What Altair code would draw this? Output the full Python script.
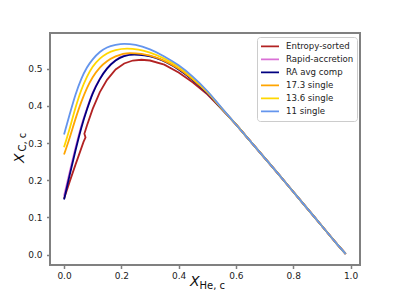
import altair as alt
import pandas as pd

series_names = ["Entropy-sorted", "Rapid-accretion", "RA avg comp", "17.3 single", "13.6 single", "11 single"]
series_colors = ["#b22222", "#da70d6", "#000080", "#ffa500", "#ffd700", "#6495ed"]

tail_x = [0.6, 0.65, 0.7, 0.75, 0.8, 0.85, 0.9, 0.95, 0.983]
tail_y = [0.350, 0.305, 0.260, 0.215, 0.169, 0.123, 0.077, 0.031, 0.002]

es_x = [0, 0.02, 0.04, 0.057, 0.068, 0.075, 0.071, 0.08, 0.1, 0.125, 0.15, 0.18, 0.21, 0.24, 0.27, 0.3, 0.35, 0.4, 0.45, 0.5, 0.55]
es_y = [0.150, 0.197, 0.242, 0.279, 0.303, 0.315, 0.325, 0.347, 0.392, 0.437, 0.470, 0.498, 0.514, 0.522, 0.524, 0.522, 0.511, 0.490, 0.463, 0.431, 0.392]

ra_x = [0, 0.02, 0.04, 0.06, 0.08, 0.1, 0.125, 0.15, 0.18, 0.21, 0.245, 0.28, 0.32, 0.36, 0.4, 0.45, 0.5, 0.55]
ra_y = [0.158, 0.223, 0.287, 0.345, 0.393, 0.435, 0.473, 0.501, 0.523, 0.535, 0.539, 0.537, 0.530, 0.517, 0.499, 0.470, 0.435, 0.393]

rav_x = [0, 0.02, 0.04, 0.06, 0.08, 0.1, 0.125, 0.15, 0.18, 0.21, 0.245, 0.28, 0.32, 0.36, 0.4, 0.45, 0.5, 0.55]
rav_y = [0.148, 0.215, 0.280, 0.340, 0.390, 0.433, 0.472, 0.500, 0.522, 0.534, 0.538, 0.536, 0.529, 0.516, 0.498, 0.469, 0.434, 0.392]

s173_x = [0, 0.02, 0.04, 0.06, 0.08, 0.1, 0.125, 0.15, 0.18, 0.23, 0.27, 0.3, 0.35, 0.4, 0.45, 0.5, 0.55]
s173_y = [0.269, 0.315, 0.365, 0.410, 0.448, 0.477, 0.503, 0.520, 0.533, 0.542, 0.540, 0.535, 0.521, 0.500, 0.471, 0.436, 0.393]

s136_x = [0, 0.02, 0.04, 0.06, 0.08, 0.1, 0.125, 0.15, 0.18, 0.22, 0.26, 0.3, 0.35, 0.4, 0.45, 0.5, 0.55]
s136_y = [0.289, 0.340, 0.395, 0.442, 0.478, 0.505, 0.527, 0.541, 0.550, 0.554, 0.551, 0.543, 0.527, 0.505, 0.474, 0.438, 0.394]

s11_x = [0, 0.02, 0.04, 0.06, 0.08, 0.1, 0.125, 0.15, 0.18, 0.21, 0.25, 0.3, 0.35, 0.4, 0.45, 0.5, 0.55]
s11_y = [0.323, 0.378, 0.430, 0.472, 0.503, 0.525, 0.545, 0.557, 0.564, 0.567, 0.564, 0.552, 0.533, 0.509, 0.478, 0.440, 0.395]

all_x = [es_x, ra_x, rav_x, s173_x, s136_x, s11_x]
all_y = [es_y, ra_y, rav_y, s173_y, s136_y, s11_y]

rows = []
for name, xs, ys in zip(series_names, all_x, all_y):
    xx = xs + tail_x
    yy = ys + tail_y
    for i, (a, b) in enumerate(zip(xx, yy)):
        rows.append({"series": name, "i": i, "xhe": a, "xc": b})
df = pd.DataFrame(rows)

color = alt.Color(
    "series:N",
    scale=alt.Scale(domain=series_names, range=series_colors),
    legend=alt.Legend(
        title=None, orient="none", legendX=207, legendY=4,
        symbolType="stroke", symbolSize=324, symbolStrokeWidth=1.8,
        labelFontSize=8.6, labelFont="DejaVu Sans", labelColor="#222",
        clipHeight=12.7, rowPadding=0, padding=3, labelOffset=6,
        strokeColor="#cccccc", fillColor="rgba(255,255,255,0.8)", cornerRadius=3,
    ),
)

xsc = alt.Scale(domain=[-0.049, 1.033], nice=False, zero=False)
ysc = alt.Scale(domain=[-0.028, 0.596], nice=False, zero=False)
xax = alt.Axis(values=[0, 0.2, 0.4, 0.6, 0.8, 1.0], format=".1f", title=None, grid=False,
               tickSize=3.5, labelPadding=3, domain=False, tickColor="#808080", tickWidth=1.5,
               labelFont="DejaVu Sans", labelFontSize=9, labelColor="#222")
yax = alt.Axis(values=[0, 0.1, 0.2, 0.3, 0.4, 0.5], format=".1f", title=None, grid=False,
               tickSize=3.5, labelPadding=4.5, domain=False, tickColor="#808080", tickWidth=1.5,
               labelFont="DejaVu Sans", labelFontSize=9, labelColor="#222")

layers = []
for name in series_names:
    interp = "linear" if name == "Entropy-sorted" else "monotone"
    layers.append(
        alt.Chart(df).transform_filter(alt.datum.series == name)
        .mark_line(strokeWidth=1.8, interpolate=interp)
        .encode(x=alt.X("xhe:Q", scale=xsc, axis=xax),
                y=alt.Y("xc:Q", scale=ysc, axis=yax),
                color=color, order="i:Q")
    )

def label(txt, x, y, size, angle=0, italic=False):
    kw = dict(text=txt, fontSize=size, font="DejaVu Sans", align="left", baseline="alphabetic", color="#111")
    if angle:
        kw["angle"] = angle
    if italic:
        kw["fontStyle"] = "italic"
    return alt.Chart(pd.DataFrame({"a": [0]})).mark_text(**kw).encode(x=alt.value(x), y=alt.value(y))

titles = [
    label("X", 140, 253, 14, italic=True),
    label("He, c", 149.5, 255.5, 10),
    label("X", -26.5, 130, 14, angle=270, italic=True),
    label("C, c", -24, 118.5, 10, angle=270),
]

chart = alt.layer(*layers, *titles).properties(
    width=310, height=232,
    autosize=alt.AutoSizeParams(type="none"),
    padding={"left": 42, "top": 25, "right": 32, "bottom": 27},
).configure_view(stroke="#808080", strokeWidth=2)

chart.save("out.html", embed_options={"renderer": "svg", "actions": False})
